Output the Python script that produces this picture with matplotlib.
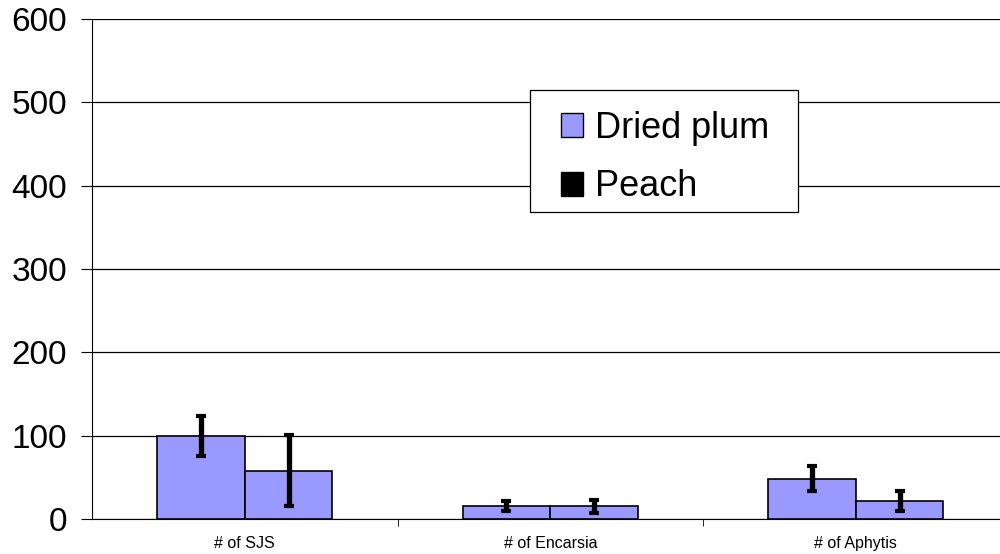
import numpy as np
import matplotlib
matplotlib.use("Agg")
import matplotlib.pyplot as plt
from matplotlib.patches import Patch, Rectangle

plt.rcParams['font.family'] = ['Liberation Sans', 'DejaVu Sans']

# data
categories = ['# of SJS', '# of Encarsia', '# of Aphytis']
dried_plum = [100, 15, 48]
dried_plum_err = [24, 6, 15]
peach = [58, 15, 21]
peach_err = [43, 8, 12]

bar_color = '#9999FF'

fig = plt.figure(figsize=(10, 5.54), dpi=100)
ax = fig.add_axes([0.092, 0.0632, 0.9165, 0.9025])

x = np.arange(len(categories))
w = 0.287
ax.bar(x - w/2, dried_plum, w, color=bar_color, edgecolor='black', linewidth=1.2, zorder=3)
ax.bar(x + w/2, peach, w, color=bar_color, edgecolor='black', linewidth=1.2, zorder=3)
ax.errorbar(x - w/2, dried_plum, yerr=dried_plum_err, fmt='none', ecolor='black',
            elinewidth=3.8, capsize=3.4, capthick=3, zorder=4)
ax.errorbar(x + w/2, peach, yerr=peach_err, fmt='none', ecolor='black',
            elinewidth=3.8, capsize=3.4, capthick=3, zorder=4)

ax.set_xlim(-0.5, 2.5)
ax.set_ylim(0, 600)
ax.set_yticks(range(0, 601, 100))
ax.yaxis.grid(True, color='black', linewidth=0.9, zorder=0)
ax.set_axisbelow(True)

ax.set_xticks(x)
ax.set_xticklabels(categories, fontsize=11.5)
ax.set_xticks([0.5, 1.5], minor=True)
ax.tick_params(axis='x', which='major', length=0, pad=12)
ax.tick_params(axis='x', which='minor', length=5, direction='out', color='black')
ax.tick_params(axis='y', labelsize=24, length=8, direction='out', pad=10, color='black')

for s in ['top', 'right']:
    ax.spines[s].set_visible(False)
ax.spines['left'].set_color('black')
ax.spines['bottom'].set_color('black')

# legend box drawn separately so the padding can match
frame = Rectangle((0.4779, 0.614), 0.2924, 0.244, transform=ax.transAxes,
                  facecolor='white', edgecolor='black', linewidth=0.9, zorder=5)
ax.add_patch(frame)
handles = [Patch(facecolor=bar_color, edgecolor='black', label='Dried plum'),
           Patch(facecolor='black', edgecolor='black', label='Peach')]
leg = ax.legend(handles=handles, loc='upper left', bbox_to_anchor=(0.5117, 0.816),
                fontsize=26, frameon=False,
                handlelength=0.6, handleheight=0.65, handletextpad=0.33,
                borderpad=0, labelspacing=0.65, borderaxespad=0)
leg.set_zorder(6)

fig.savefig('out.png', dpi=100)
